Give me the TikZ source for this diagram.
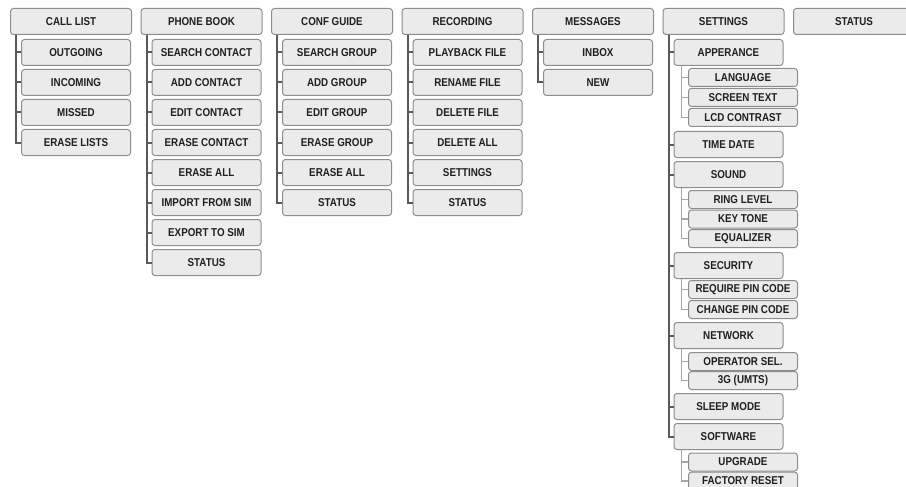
\documentclass[tikz,border=0pt]{standalone}
\usepackage{fontspec}
\setmainfont{Liberation Sans}[FakeStretch=0.86]
\begin{document}
\begin{tikzpicture}[x=1pt, y=-1pt,
        every node/.style={font=\fontsize{11.4}{12}\selectfont\bfseries, text=black!88},
        menu/.style={draw=black!45, line width=1pt, fill=black!8, rounded corners=3pt,
            anchor=north west, inner sep=0pt, minimum width=121pt, minimum height=26pt},
        item/.style={menu, minimum width=109pt},
        subitem/.style={menu, minimum width=109pt, minimum height=18pt},
        trunk/.style={draw=black!65, line width=2pt},
        twig/.style={draw=black!35, line width=1.5pt}]
            \useasboundingbox (0,0) rectangle (906,487);
            
            % top row
            \foreach \name/\txt [count=\i from 0] in {calllist/CALL LIST, phonebook/PHONE BOOK,
                confguide/CONF GUIDE, recording/RECORDING, messages/MESSAGES,
                settings/SETTINGS, status/STATUS}
                \node[menu] (\name) at (10+130.5*\i,8) {\txt};
            
            \foreach \txt [count=\i] in {OUTGOING, INCOMING, MISSED, ERASE LISTS} {
                \node[item] (calllist-\i) at (21,9+30*\i) {\txt};
                \draw[trunk] ([xshift=6pt]calllist.south west) |- (calllist-\i.west);
            }
            
            \foreach \txt [count=\i] in {SEARCH CONTACT, ADD CONTACT, EDIT CONTACT, ERASE CONTACT,
                ERASE ALL, IMPORT FROM SIM, EXPORT TO SIM, STATUS} {
                \node[item] (phonebook-\i) at (151.5,9+30*\i) {\txt};
                \draw[trunk] ([xshift=6pt]phonebook.south west) |- (phonebook-\i.west);
            }
            
            \foreach \txt [count=\i] in {SEARCH GROUP, ADD GROUP, EDIT GROUP, ERASE GROUP,
                ERASE ALL, STATUS} {
                \node[item] (confguide-\i) at (282,9+30*\i) {\txt};
                \draw[trunk] ([xshift=6pt]confguide.south west) |- (confguide-\i.west);
            }
            
            \foreach \txt [count=\i] in {PLAYBACK FILE, RENAME FILE, DELETE FILE, DELETE ALL,
                SETTINGS, STATUS} {
                \node[item] (recording-\i) at (412.5,9+30*\i) {\txt};
                \draw[trunk] ([xshift=6pt]recording.south west) |- (recording-\i.west);
            }
            
            \foreach \txt [count=\i] in {INBOX, NEW} {
                \node[item] (messages-\i) at (543,9+30*\i) {\txt};
                \draw[trunk] ([xshift=6pt]messages.south west) |- (messages-\i.west);
            }
            
            % settings
            \foreach \txt/\y [count=\i] in {APPERANCE/39, TIME DATE/131, SOUND/161, SECURITY/252,
                NETWORK/322, SLEEP MODE/393, SOFTWARE/423} {
                \node[item] (settings-\i) at (673.5,\y) {\txt};
                \draw[trunk] ([xshift=6pt]settings.south west) |- (settings-\i.west);
            }
            
            \foreach \txt/\y/\p [count=\i] in {LANGUAGE/68/1, SCREEN TEXT/88/1, LCD CONTRAST/108/1,
                RING LEVEL/190/3, KEY TONE/209.5/3, EQUALIZER/229/3,
                REQUIRE PIN CODE/280/4, CHANGE PIN CODE/300/4,
                OPERATOR SEL./352/5, 3G (UMTS)/371/5,
                UPGRADE/452.5/7, FACTORY RESET/471.5/7} {
                \node[subitem] (settings-\p-\i) at (688,\y) {\txt};
                \draw[twig] ([xshift=8pt]settings-\p.south west) |- (settings-\p-\i.west);
            }
            
    \end{tikzpicture}
\end{document}
